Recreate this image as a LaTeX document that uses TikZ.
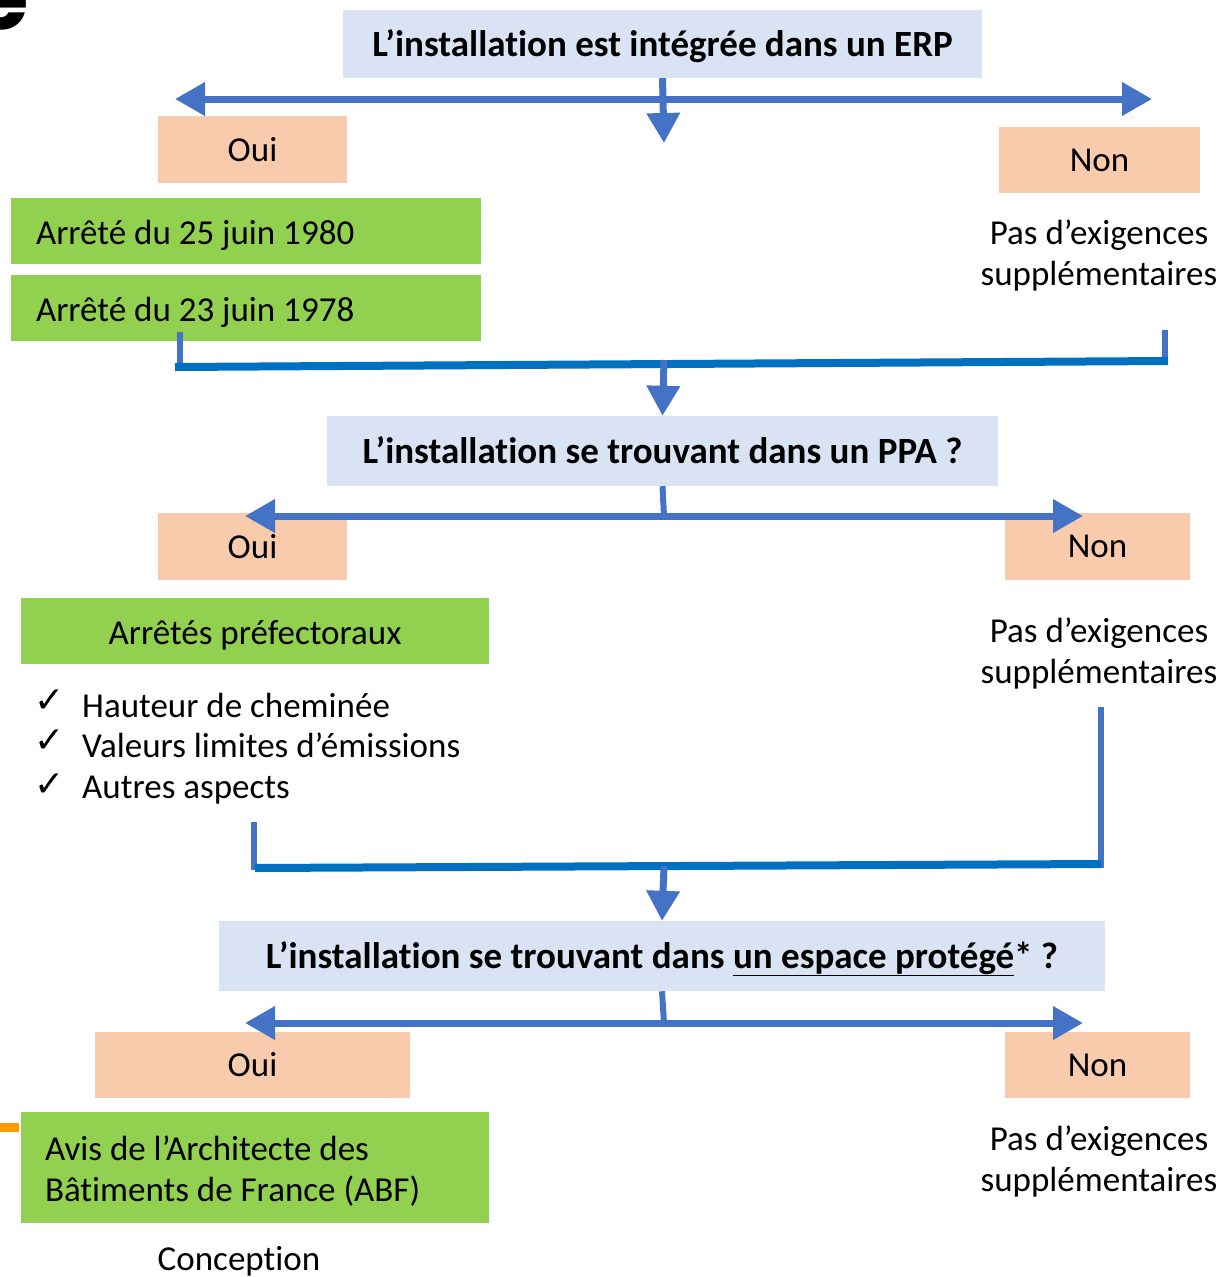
\documentclass[tikz,border=0pt]{standalone}
\usepackage{fontspec}
\setmainfont{Carlito}[Ligatures=NoCommon]
\newfontfamily\symfont{DejaVu Sans}
\newfontfamily\logofont{Poppins}
\usetikzlibrary{arrows.meta}
\definecolor{qbg}{HTML}{DAE3F3}
\definecolor{onbg}{HTML}{F8CBAD}
\definecolor{grn}{HTML}{92D050}
\definecolor{arrblue}{HTML}{4472C4}
\definecolor{darkline}{HTML}{0070C0}
\definecolor{orng}{HTML}{FF9900}
\newcommand\regtxt{\fontsize{35}{41}\selectfont}
\newcommand\boldtxt{\fontsize{37}{44}\selectfont\bfseries}
\tikzset{
  qbox/.style={fill=qbg, inner sep=0pt, align=center, font=\boldtxt, text height=30pt, text depth=6pt},
  onbox/.style={fill=onbg, inner sep=0pt, align=center, font=\regtxt},
  grnbox/.style={fill=grn, inner sep=0pt, font=\regtxt, text height=32pt, text depth=6pt},
  plain/.style={inner sep=0pt, align=center, font=\regtxt},
  arr/.style={draw=arrblue, line width=7pt, -{Triangle[length=30pt,width=32pt]}},
  stem/.style={draw=arrblue, line width=6pt},
  bar/.style={draw=darkline, line width=8pt},
  chk/.style={inner sep=0pt, anchor=center, font=\symfont\fontsize{36}{36}\selectfont},
  item/.style={inner sep=0pt, anchor=west, font=\regtxt}
}
\begin{document}
\begin{tikzpicture}[x=1pt,y=-1pt]
\useasboundingbox (0,0) rectangle (1223,1277);
% stray fragments at the edges
\begin{scope}
\clip (0,0) rectangle (60,60);
\node[inner sep=0pt, anchor=base, font=\logofont\bfseries\fontsize{90}{90}\selectfont] (frag) at (1,29) {e};
\end{scope}
\fill[orng] (0,1123) rectangle (19,1132);

% ---------- level 1 ----------
\node[qbox, minimum width=639pt, minimum height=68pt] (q1) at (662.5,44) {L’installation est intégrée dans un ERP};
\node[onbox, minimum width=189pt, minimum height=67pt] (oui1) at (252.5,149.5) {Oui};
\node[onbox, minimum width=201pt, minimum height=66pt] (non1) at (1099.5,160) {Non};
\node[grnbox, minimum height=66pt, text width=420pt, inner xsep=25pt, align=flush left] (gA) at (246,231) {Arrêté du 25 juin 1980};
\node[grnbox, minimum height=66pt, text width=420pt, inner xsep=25pt, align=flush left] (gB) at (246,308) {Arrêté du 23 juin 1978};
\node[plain] (pas1) at (1099,255) {Pas d’exigences\\supplémentaires};

\coordinate (c1) at (664,99);
\coordinate (l1) at (175,99);
\coordinate (r1) at (1152,99);
\coordinate (d1) at (664,143);
\draw[arr] (c1) -- (l1);
\draw[arr] (c1) -- (r1);
\draw[arr] (q1.south) -- (d1);

\coordinate (j1lt) at (180,332);
\coordinate (j1l) at (180,369);
\coordinate (j1rt) at (1165,330);
\coordinate (j1r) at (1165,364);
\coordinate (j1a) at (175,367);
\coordinate (j1b) at (1168,361);
\coordinate (j1c) at (664,360);
\draw[stem] (j1lt) -- (j1l);
\draw[stem] (j1rt) -- (j1r);
\draw[bar] (j1a) -- (j1b);

% ---------- level 2 ----------
\node[qbox, minimum width=671pt, minimum height=70pt] (q2) at (662.5,451) {L’installation se trouvant dans un PPA ?};
\draw[arr] (j1c) -- (q2.north);
\node[onbox, minimum width=189pt, minimum height=67pt] (oui2) at (252.5,546.5) {Oui};
\node[onbox, minimum width=185pt, minimum height=67pt] (non2) at (1097.5,546.5) {Non};
\node[grnbox, minimum width=468pt, minimum height=66pt, align=center] (gC) at (255,631) {Arrêtés préfectoraux};
\node[plain] (pas2) at (1099,653) {Pas d’exigences\\supplémentaires};

\coordinate (c2) at (664,516);
\coordinate (l2) at (245,516);
\coordinate (r2) at (1083,516);
\draw[stem] (q2.south) -- (c2);
\draw[arr] (c2) -- (l2);
\draw[arr] (c2) -- (r2);

\node[chk] (k1) at (50,701) {✓};
\node[chk] (k2) at (50,741) {✓};
\node[chk] (k3) at (50,785) {✓};
\node[item] (t1) at (82,705) {Hauteur de cheminée};
\node[item] (t2) at (82,745) {Valeurs limites d’émissions};
\node[item] (t3) at (82,790) {Autres aspects};

\coordinate (j2lt) at (254,822);
\coordinate (j2l) at (254,870);
\coordinate (j2rt) at (1101,707);
\coordinate (j2r) at (1101,868);
\coordinate (j2a) at (255,868);
\coordinate (j2b) at (1101,864);
\coordinate (j2c) at (664,866);
\draw[stem] (j2lt) -- (j2l);
\draw[stem] (j2rt) -- (j2r);
\draw[bar] (j2a) -- (j2b);

% ---------- level 3 ----------
\node[qbox, minimum width=886pt, minimum height=70pt] (q3) at (662,956) {L’installation se trouvant dans \underline{un espace protégé}* ?};
\draw[arr] (j2c) -- (q3.north);
\node[onbox, minimum width=315pt, minimum height=66pt] (oui3) at (252.5,1065) {Oui};
\node[onbox, minimum width=185pt, minimum height=66pt] (non3) at (1097.5,1065) {Non};
\node[grnbox, minimum height=111pt, text width=420pt, inner xsep=24pt, align=flush left, text height=30pt, text depth=44pt] (gD) at (255,1167.5) {Avis de l’Architecte des\\Bâtiments de France (ABF)};
\node[plain] (conc) at (239,1261) {Conception};
\node[plain] (pas3) at (1099,1161) {Pas d’exigences\\supplémentaires};

\coordinate (c3) at (664,1023);
\coordinate (l3) at (245,1023);
\coordinate (r3) at (1083,1023);
\draw[stem] (q3.south) -- (c3);
\draw[arr] (c3) -- (l3);
\draw[arr] (c3) -- (r3);
\end{tikzpicture}
\end{document}
